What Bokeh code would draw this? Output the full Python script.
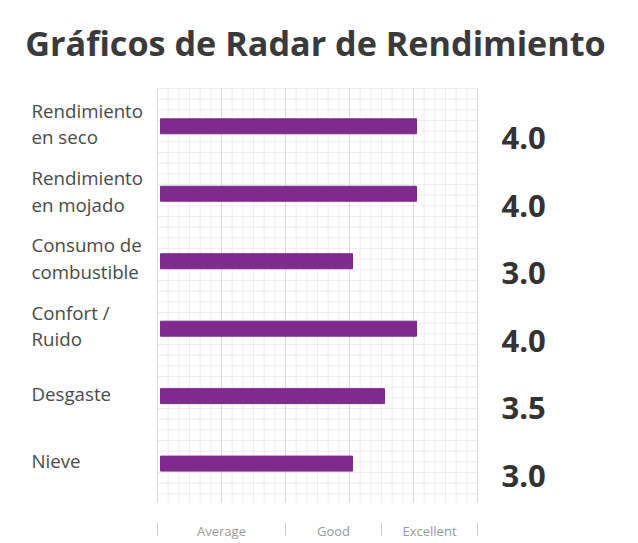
import numpy as np
from bokeh.plotting import figure
from bokeh.models import ColumnDataSource, Range1d
from bokeh.core.properties import value
from bokeh.embed import file_html
from bokeh.resources import INLINE

title_text = "Gráficos de Radar de Rendimiento"
categories = ["Rendimiento\nen seco", "Rendimiento\nen mojado", "Consumo de\ncombustible",
              "Confort /\nRuido", "Desgaste", "Nieve"]
scores = [4.0, 4.0, 3.0, 4.0, 3.5, 3.0]
rating_labels = ["Average", "Good", "Excellent"]
rating_edges = [0, 2, 3.5, 5]
scale_max = 5

W, H = 630, 540
# layout (pixels)
X_ZERO, X_UNIT = 160.0, 64.0      # bar origin and px per score unit
Y_FIRST, Y_STEP = 125.8, 67.46    # first row centre and row pitch
GRID_TOP, GRID_BOTTOM = 88.0, 502.0
BAR_PAD = 3.0 / X_UNIT


def px2x(px):
    return (px - X_ZERO) / X_UNIT


def py2y(py):
    return (py - Y_FIRST) / Y_STEP


n = len(categories)
idx = np.arange(n)

p = figure(width=W, height=H, output_backend="svg", toolbar_location=None,
           x_range=Range1d(px2x(0), px2x(W)), y_range=Range1d(py2y(H), py2y(0)),
           x_axis_location=None, y_axis_location=None,
           min_border=0, min_border_left=0, min_border_right=0,
           min_border_top=0, min_border_bottom=0)
p.title.visible = False
p.outline_line_color = None
p.grid.visible = False

# background grid
gx0 = -BAR_PAD
vk = np.arange(scale_max * 6 + 1)
vx = gx0 + vk / 6.0
minor_v = vx[vk % 6 != 0]
major_v = vx[vk % 6 == 0]
gy_top, gy_bot = py2y(GRID_TOP), py2y(GRID_BOTTOM)
hy = py2y(np.arange(GRID_TOP, GRID_BOTTOM + 1, 64.0 / 6))
p.segment(x0=list(minor_v), y0=gy_top, x1=list(minor_v), y1=gy_bot, line_color="#eeeeee", line_width=1)
p.segment(x0=gx0, y0=list(hy), x1=gx0 + scale_max, y1=list(hy), line_color="#eeeeee", line_width=1)
p.segment(x0=list(major_v), y0=gy_top, x1=list(major_v), y1=gy_bot, line_color="#dcdcdc", line_width=1)

src = ColumnDataSource(dict(idx=idx, cat=categories, score=scores,
                            txt=[f"{v:.1f}" for v in scores]))
p.hbar(y="idx", left=0, right="score", height=15.0 / Y_STEP, color="#7F2A8D", source=src)

# category labels
p.text(x=px2x(31), y="idx", text="cat", source=src, y_offset=-3, text_align="left",
       text_baseline="middle", text_font=value("Open Sans"), text_font_size="18.7px",
       text_color="#4a4a4a", text_line_height=1.06)
# values
p.text(x=px2x(501), y="idx", text="txt", source=src, y_offset=12, text_align="left",
       text_baseline="middle", text_font=value("Open Sans"), text_font_style="bold",
       text_font_size="31px", text_color="#333333")

# rating scale
edges = np.array(rating_edges, dtype=float) + gx0
mids = (edges[:-1] + edges[1:]) / 2
p.text(x=list(mids), y=py2y(530), text=rating_labels, text_align="center", text_baseline="middle",
       text_font=value("Open Sans"), text_font_size="13px", text_color="#9a9a9a")
p.segment(x0=list(edges), y0=py2y(522), x1=list(edges), y1=py2y(535), line_color="#cccccc", line_width=1)

# title
p.text(x=[px2x(315)], y=[py2y(42)], text=[title_text], text_align="center", text_baseline="middle",
       text_font=value("Open Sans"), text_font_style="bold", text_font_size="34.2px",
       text_color="#3a3a3a")

open("out.html", "w").write(file_html(p, INLINE))
